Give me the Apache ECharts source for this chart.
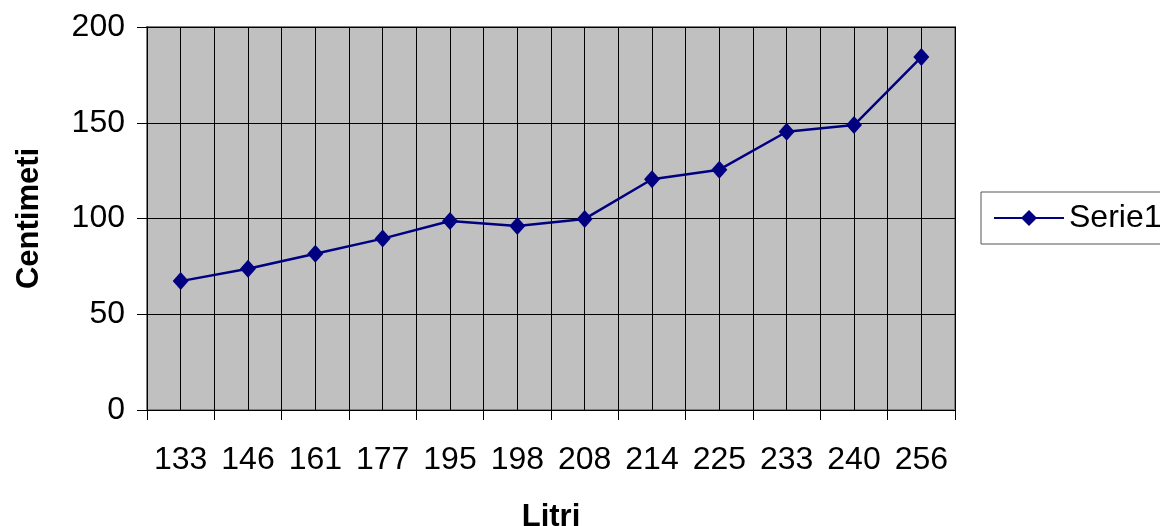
<!DOCTYPE html>
<html>
<head>
<meta charset="utf-8">
<title>Litri / Centimeti</title>
<script src="https://cdn.jsdelivr.net/npm/echarts@6/dist/echarts.min.js"></script>
<style>
    html, body { margin: 0; padding: 0; background: #fff; }
    #chart { width: 1160px; height: 526px; }
</style>
</head>
<body>
<div id="chart"></div>
<script>
// valori
var litri = ['133', '146', '161', '177', '195', '198', '208', '214', '225', '233', '240', '256']
var centimetri = [67.3, 73.8, 81.6, 89.5, 98.7, 96.1, 99.8, 120.5, 125.5, 145.3, 148.8, 184.3]
var seriesName = 'Serie1'

var font = "'Liberation Sans', Arial, sans-serif"
var chart = echarts.init(document.getElementById('chart'))

chart.setOption({
    animation: false,
    textStyle: { fontFamily: font },
    grid: {
        left: 147,
        right: 205,
        top: 27,
        bottom: 116,
        outerBoundsMode: 'none',
        containLabel: false,
        show: true,
        backgroundColor: '#c0c0c0',
        borderColor: '#808080',
        borderWidth: 2
    },
    legend: {
        data: [seriesName],
        left: 981,
        top: 192,
        orient: 'vertical',
        padding: [10, 20, 10, 12],
        borderColor: '#555',
        borderWidth: 1,
        itemWidth: 70,
        itemHeight: 20,
        textStyle: { fontSize: 32, color: '#000', fontFamily: font }
    },
    xAxis: [{
        type: 'category',
        data: litri,
        boundaryGap: true,
        name: 'Litri',
        nameLocation: 'middle',
        nameGap: 92,
        nameTextStyle: { fontSize: 31, fontWeight: 'bold', color: '#000' },
        axisLine: { lineStyle: { color: '#000', width: 1 } },
        axisTick: { show: true, length: 10, lineStyle: { color: '#000' } },
        axisLabel: { fontSize: 32, color: '#000', margin: 34, interval: 0 },
        splitLine: { show: false }
    }, {
        // solo per le linee verticali (bordi e centri delle categorie)
        type: 'value',
        min: 0,
        max: 24,
        interval: 1,
        position: 'bottom',
        axisLine: { show: false },
        axisTick: { show: false },
        axisLabel: { show: false },
        splitLine: { show: true, lineStyle: { color: '#000', width: 1 } }
    }],
    yAxis: {
        type: 'value',
        min: 0,
        max: 200,
        interval: 50,
        name: 'Centimeti',
        nameLocation: 'middle',
        nameRotate: 90,
        nameGap: 102,
        nameTextStyle: { fontSize: 31, fontWeight: 'bold', color: '#000' },
        axisLine: { show: true, lineStyle: { color: '#000', width: 1 } },
        axisTick: { show: true, length: 10, lineStyle: { color: '#000' } },
        axisLabel: { fontSize: 32, color: '#000', margin: 22 },
        splitLine: { show: true, lineStyle: { color: '#000', width: 1 } }
    },
    series: [{
        name: seriesName,
        type: 'line',
        xAxisIndex: 0,
        data: centimetri,
        symbol: 'diamond',
        symbolSize: [16, 18],
        itemStyle: { color: '#000080' },
        lineStyle: { color: '#000080', width: 2.5 },
        z: 5
    }]
})
</script>
</body>
</html>
